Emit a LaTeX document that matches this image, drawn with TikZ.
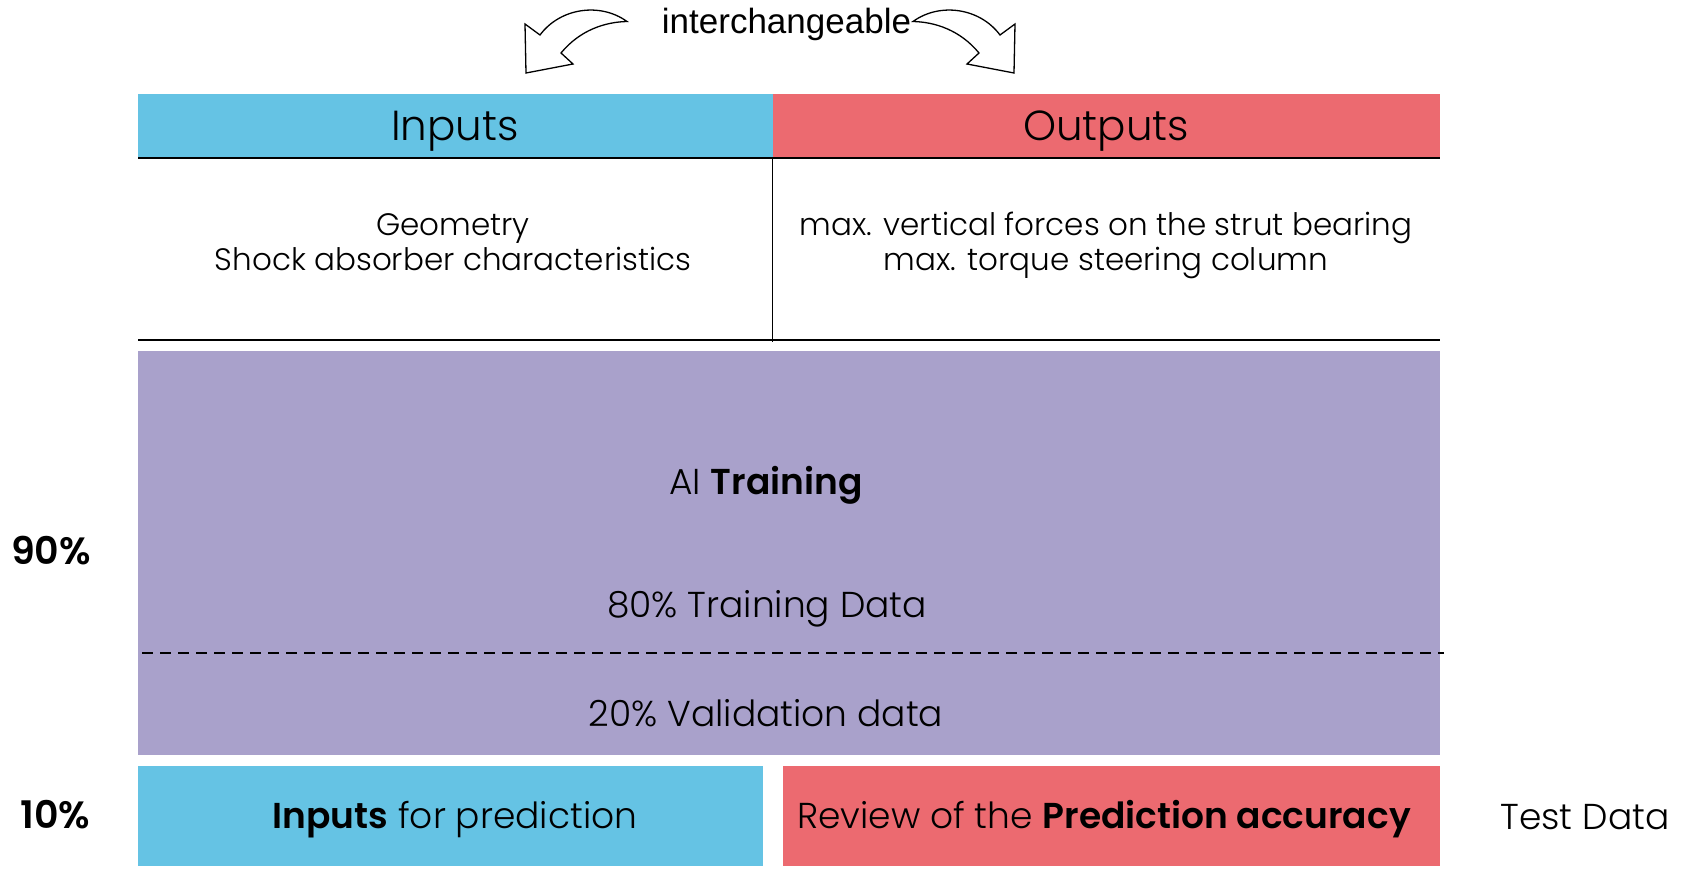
\documentclass[tikz,border=0pt]{standalone}
\usepackage{fontspec}
\setmainfont{Poppins Light}[BoldFont={Poppins SemiBold}]
\newfontfamily\arialfont{Liberation Sans}
\definecolor{inblue}{RGB}{101,195,228}
\definecolor{outred}{RGB}{236,106,112}
\definecolor{trainpurple}{RGB}{169,161,203}
\tikzset{
  bar/.style={draw=none, inner sep=0pt, outer sep=0pt, anchor=north west},
  headtxt/.style={font=\fontsize{42}{46}\selectfont, inner sep=0pt, anchor=base},
  bodytxt/.style={font=\fontsize{31}{36}\selectfont, inner sep=0pt, anchor=base},
  bigtxt/.style={font=\fontsize{36}{40}\selectfont, inner sep=0pt, anchor=base},
  pcttxt/.style={font=\fontsize{38}{42}\selectfont\bfseries, inner sep=0pt, anchor=base},
  rule/.style={line width=2pt, black},
  swap/.style={draw=black, line width=1.3pt, fill=white, line join=miter}
}
\begin{document}
\begin{tikzpicture}[x=1pt,y=-1pt]
\useasboundingbox (0,0) rectangle (1687,872);

% header bars
\node[bar, fill=inblue, minimum width=634.5pt, minimum height=64pt] (inhead) at (138,94) {};
\node[bar, fill=outred, minimum width=667.5pt, minimum height=64pt] (outhead) at (772.5,94) {};
\node[headtxt] (inlbl) at (455,141) {Inputs};
\node[headtxt] (outlbl) at (1106,141) {Outputs};

% table rules
\coordinate (ruleL) at (138,158);
\coordinate (ruleR) at (1440,158);
\coordinate (baseL) at (138,340);
\coordinate (baseR) at (1440,340);
\coordinate (divT) at (772.5,158);
\coordinate (divB) at (772.5,342);
\draw[rule] (ruleL) -- (ruleR);
\draw[rule] (baseL) -- (baseR);
\draw[line width=1.5pt] (divT) -- (divB);

\node[bodytxt] (intextA) at (453,235) {Geometry};
\node[bodytxt] (intextB) at (453,270.5) {Shock absorber characteristics};
\node[bodytxt] (outtextA) at (1106,235) {max. vertical forces on the strut bearing};
\node[bodytxt] (outtextB) at (1106,270.5) {max. torque steering column};

% training block
\node[bar, fill=trainpurple, minimum width=1302pt, minimum height=404pt] (train) at (138,351) {};
\node[bigtxt] (ailbl) at (766,494) {AI \textbf{Training}};
\node[bigtxt] (trlbl) at (767,617) {80\% Training Data};
\node[bigtxt] (vallbl) at (766,726) {20\% Validation data};
\coordinate (dashL) at (142,653);
\coordinate (dashR) at (1444,653);
\draw[line width=1.8pt, dash pattern=on 11pt off 7pt] (dashL) -- (dashR);

% test block
\node[bar, fill=inblue, minimum width=625pt, minimum height=100pt] (predin) at (138,766) {};
\node[bar, fill=outred, minimum width=657pt, minimum height=100pt] (review) at (783,766) {};
\node[bigtxt] (predlbl) at (455,828.5) {\textbf{Inputs} for prediction};
\node[bigtxt] (revlbl) at (1104,828) {Review of the \textbf{Prediction accuracy}};
\node[bigtxt] (testlbl) at (1585,829) {Test Data};

% split percentages
\node[pcttxt] (p90) at (51,564) {90\%};
\node[pcttxt] (p10) at (55.4,828) {10\%};

% swap arrows
\node[font=\arialfont\fontsize{35}{38}\selectfont, inner sep=0pt, anchor=base] (swaplbl) at (786.5,33.5) {interchangeable};
\draw[swap] (627,21.5) .. controls (600,2) and (560,8) .. (540,35) -- (525,24) -- (526,73)
  -- (573,64) -- (561,53) .. controls (580,30) and (605,22) .. (627,21.5) -- cycle;
\begin{scope}[xshift=1540pt, xscale=-1]
\draw[swap] (627,21.5) .. controls (600,2) and (560,8) .. (540,35) -- (525,24) -- (526,73)
  -- (573,64) -- (561,53) .. controls (580,30) and (605,22) .. (627,21.5) -- cycle;
\end{scope}
\end{tikzpicture}
\end{document}
